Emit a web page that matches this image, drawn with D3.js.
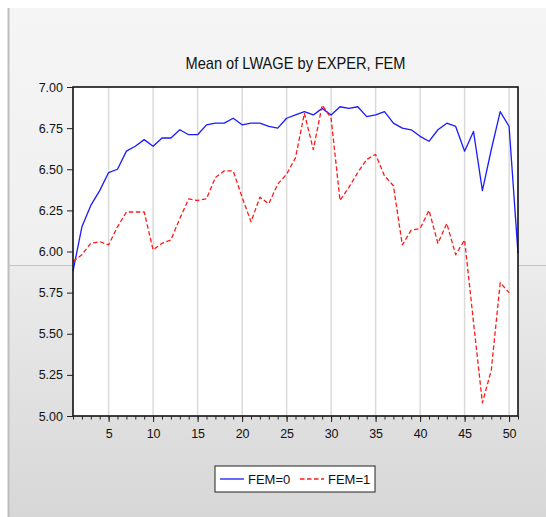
<!DOCTYPE html>
<html>
<head>
<meta charset="utf-8">
<script src="https://cdn.jsdelivr.net/npm/d3@7"></script>
<style>
  body { margin: 0; background: #fff; }
  text { font-family: "Liberation Sans", Arial, sans-serif; fill: #111; }
</style>
</head>
<body>
<svg id="drawing_region"></svg>
<script>
// data
const exper = [1,2,3,4,5,6,7,8,9,10,11,12,13,14,15,16,17,18,19,20,21,22,23,24,25,
    26,27,28,29,30,31,32,33,34,35,36,37,38,39,40,41,42,43,44,45,46,47,48,49,50,51]
const fem0 = [5.88,6.15,6.28,6.37,6.48,6.50,6.61,6.64,6.68,6.64,6.69,6.69,6.74,6.71,6.71,
    6.77,6.78,6.78,6.81,6.77,6.78,6.78,6.76,6.75,6.81,6.83,6.85,6.83,6.87,6.83,
    6.88,6.87,6.88,6.82,6.83,6.85,6.78,6.75,6.74,6.70,6.67,6.74,6.78,6.76,6.61,
    6.73,6.37,6.62,6.85,6.76,5.99]
const fem1 = [5.94,5.98,6.05,6.06,6.04,6.15,6.24,6.24,6.24,6.01,6.05,6.07,6.20,6.32,6.31,
    6.32,6.45,6.49,6.49,6.33,6.18,6.33,6.29,6.41,6.47,6.57,6.84,6.62,6.89,6.81,
    6.31,6.39,6.48,6.56,6.59,6.46,6.40,6.04,6.13,6.14,6.25,6.05,6.17,5.98,6.07,
    5.57,5.08,5.28,5.81,5.75]
const series_names = ['FEM=0','FEM=1']
const y_ticks = [5.00,5.25,5.50,5.75,6.00,6.25,6.50,6.75,7.00]
const x_major = [5,10,15,20,25,30,35,40,45,50]
const x_domain = [1,51]
const title_text = 'Mean of LWAGE by EXPER, FEM'

class LinePlot{
    constructor(config,series){
        this.config = {
            parent: config.parent,
            width: config.width || 546,
            height: config.height || 517,
            margin: config.margin || {top: 10, bottom: 10, left: 10, right: 10}
        }
        this.series = series
        this.init()
    }

    init(){
        let self = this

        self.svg = d3.select(self.config.parent)
            .attr('width',self.config.width)
            .attr('height',self.config.height)

        // eviews-like frame background
        const defs = self.svg.append('defs')
        const g1 = defs.append('linearGradient').attr('id','bg_top').attr('x1',0).attr('x2',0).attr('y1',0).attr('y2',1)
        g1.append('stop').attr('offset','0%').attr('stop-color','#f5f5f5')
        g1.append('stop').attr('offset','100%').attr('stop-color','#efefef')
        const g2 = defs.append('linearGradient').attr('id','bg_bot').attr('x1',0).attr('x2',0).attr('y1',0).attr('y2',1)
        g2.append('stop').attr('offset','0%').attr('stop-color','#ebebeb')
        g2.append('stop').attr('offset','100%').attr('stop-color','#d7d7d7')

        self.svg.append('rect').attr('x',9).attr('y',8).attr('width',self.config.width-9).attr('height',258)
            .attr('fill','url(#bg_top)')
        self.svg.append('rect').attr('x',9).attr('y',266).attr('width',self.config.width-9).attr('height',self.config.height-266)
            .attr('fill','url(#bg_bot)')
        self.svg.append('line').attr('x1',9).attr('x2',self.config.width).attr('y1',265.5).attr('y2',265.5)
            .attr('stroke','#c4c4c4').attr('stroke-width',1)
        self.svg.append('line').attr('x1',8.5).attr('x2',8.5).attr('y1',8).attr('y2',self.config.height)
            .attr('stroke','#bdbdbd').attr('stroke-width',2)

        self.inner_width = self.config.width - self.config.margin.left - self.config.margin.right
        self.inner_height = self.config.height - self.config.margin.top - self.config.margin.bottom

        self.chart = self.svg.append('g')
            .attr('transform',`translate(${self.config.margin.left},${self.config.margin.top})`)

        self.title = self.svg.append('text')

        self.xscale = d3.scaleLinear().range([0,self.inner_width])
        self.yscale = d3.scaleLinear().range([self.inner_height,0])
        self.xaxis = d3.axisBottom(self.xscale).tickValues(x_major).tickSize(6).tickPadding(7)
        self.xaxis_minor = d3.axisBottom(self.xscale).tickValues(exper).tickSize(3.5).tickFormat('')
        self.yaxis = d3.axisLeft(self.yscale).tickValues(y_ticks).tickSize(6).tickPadding(4).tickFormat(d3.format('.2f'))

        self.plot_bg = self.chart.append('rect')
        self.grid_group = self.chart.append('g')
        self.line_group = self.chart.append('g')
        self.frame = self.chart.append('rect')
        self.xaxis_minor_group = self.chart.append('g').attr('transform',`translate(0,${self.inner_height})`)
        self.xaxis_group = self.chart.append('g').attr('transform',`translate(0,${self.inner_height})`)
        self.yaxis_group = self.chart.append('g')
        self.legend = self.svg.append('g')
    }

    update(){
        let self = this
        self.xscale.domain(x_domain)
        self.yscale.domain([d3.min(y_ticks),d3.max(y_ticks)])
        self.render()
    }

    render(){
        let self = this

        self.title.text(title_text)
            .attr('x',self.config.margin.left + self.inner_width/2)
            .attr('y',69)
            .attr('text-anchor','middle')
            .attr('font-size',17)
            .attr('textLength',220)
            .attr('lengthAdjust','spacingAndGlyphs')

        self.plot_bg
            .attr('width',self.inner_width)
            .attr('height',self.inner_height)
            .attr('fill','#fff')

        self.grid_group.selectAll('line')
            .data(x_major).enter()
            .append('line')
            .attr('x1', d => self.xscale(d))
            .attr('x2', d => self.xscale(d))
            .attr('y1',0)
            .attr('y2',self.inner_height)
            .attr('stroke','#dadada')
            .attr('stroke-width',1.5)

        const line = d3.line()
            .x(d => self.xscale(d.x))
            .y(d => self.yscale(d.y))

        self.line_group.selectAll('path')
            .data(self.series).enter()
            .append('path')
            .attr('d', d => line(d.values))
            .attr('fill','none')
            .attr('stroke', d => d.color)
            .attr('stroke-width',1.3)
            .attr('stroke-dasharray', d => d.dash)
            .attr('stroke-linejoin','round')

        self.frame
            .attr('width',self.inner_width)
            .attr('height',self.inner_height)
            .attr('fill','none')
            .attr('stroke','#111')
            .attr('stroke-width',1.6)

        self.xaxis_minor_group.call(self.xaxis_minor)
        self.xaxis_minor_group.select('.domain').remove()
        self.xaxis_minor_group.selectAll('line').attr('stroke','#222')

        self.xaxis_group.call(self.xaxis)
        self.xaxis_group.select('.domain').remove()
        self.xaxis_group.selectAll('line').attr('stroke','#222')
        self.xaxis_group.selectAll('text')
            .attr('font-size',12.5)
            .attr('font-family','"Liberation Sans", Arial, sans-serif')
            .attr('fill','#111')

        self.yaxis_group.call(self.yaxis)
        self.yaxis_group.select('.domain').remove()
        self.yaxis_group.selectAll('line').attr('stroke','#222')
        self.yaxis_group.selectAll('text')
            .attr('font-size',12.5)
            .attr('font-family','"Liberation Sans", Arial, sans-serif')
            .attr('fill','#111')

        // legend
        const lx = 215, ly = 466
        self.legend.append('rect')
            .attr('x',lx).attr('y',ly)
            .attr('width',160).attr('height',26)
            .attr('fill','#fff')
            .attr('stroke','#222')
            .attr('stroke-width',1)
        const items = self.legend.selectAll('g.item')
            .data(self.series).enter()
            .append('g').attr('class','item')
            .attr('transform',(d,i) => `translate(${lx + 5 + i*80},${ly + 13})`)
        items.append('line')
            .attr('x1',0).attr('x2',24)
            .attr('y1',0).attr('y2',0)
            .attr('stroke', d => d.color)
            .attr('stroke-width',1.3)
            .attr('stroke-dasharray', d => d.dash)
        items.append('text')
            .attr('x',28).attr('y',4.5)
            .attr('font-size',13)
            .text(d => d.name)
    }
}

const series = [
    {name: series_names[0], color: '#1a1aff', dash: null,
        values: exper.map((x,i) => ({x: x, y: fem0[i]}))},
    {name: series_names[1], color: '#ff1a1a', dash: '4.5,2.5',
        values: fem1.map((y,i) => ({x: exper[i], y: y}))}
]

var config = {
    parent: '#drawing_region',
    width: 546,
    height: 517,
    margin: {top: 87, right: 28, bottom: 101, left: 73}
}

const line_plot = new LinePlot(config,series)
line_plot.update()
</script>
</body>
</html>
